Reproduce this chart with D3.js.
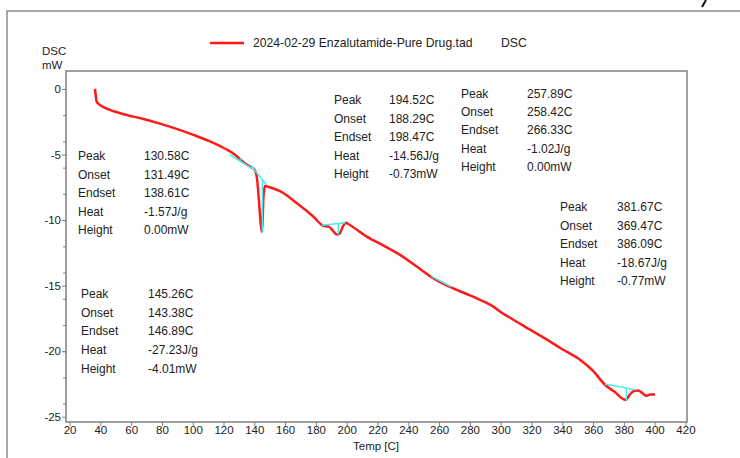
<!DOCTYPE html>
<html>
<head>
<meta charset="utf-8">
<script src="https://cdn.jsdelivr.net/npm/d3@7"></script>
<style>
  body { margin: 0; background: #fff; }
  svg { display: block; font-family: "Liberation Sans", Arial, sans-serif; }
</style>
</head>
<body>
<div class="chart"></div>
<script>
// DSC trace (temperature in C, heat flow in mW)
var temps = [36.5, 37.0, 37.6, 39.8, 46.3, 57.1, 68, 78.7, 90, 100.4, 111.2, 122, 127, 130.7, 134, 137.2,
  140.4, 141.8, 142.6, 143.6, 144.8, 145.4, 145.8, 146.4, 146.9, 150, 156.7, 167.5, 178.3, 184.8,
  188.3, 191, 193.5, 195.5, 197.5, 199.5, 201, 213, 224, 234.6, 245, 256.2, 267, 277, 286.5, 295.2,
  299.5, 308.2, 319, 329.8, 340, 351.5, 360, 367.7, 374, 381.0, 384, 386.1, 389.3, 392, 394.8, 397, 400.2];
var dsc = [0, -0.5, -0.97, -1.22, -1.6, -1.98, -2.29, -2.64, -3.06, -3.5, -4.0, -4.62, -4.98, -5.35, -5.68, -5.92,
  -6.2, -6.9, -7.9, -9.5, -10.9, -10.0, -8.5, -7.7, -7.4, -7.5, -7.8, -8.7, -9.73, -10.44,
  -10.5, -10.8, -11.1, -11.0, -10.5, -10.2, -10.3, -11.26, -11.95, -12.65, -13.5, -14.43, -15.1, -15.6, -16.08, -16.6,
  -16.97, -17.6, -18.35, -19.1, -19.85, -20.65, -21.5, -22.56, -23.1, -23.7, -23.3, -23.07, -23.0, -23.2, -23.4, -23.3, -23.3];

// peak analysis baselines: [t1, v1, t2, v2] and peak drop lines [t, vTop, vBottom]
var baselines = [[124, -5.0, 139, -6.1], [138.2, -5.9, 147.9, -7.3], [184, -10.4, 199, -10.2],
  [255, -14.3, 268, -15.1], [367.7, -22.5, 388, -22.95]];
var dropLines = [[131, -5.3, -5.6], [145.26, -6.9, -10.9], [194.52, -10.3, -11.1], [381.67, -22.85, -23.75]];

// result tables
var resultLabels = ["Peak", "Onset", "Endset", "Heat", "Height"];
var resultValues = [
  ["130.58C", "131.49C", "138.61C", "-1.57J/g", "0.00mW"],
  ["145.26C", "143.38C", "146.89C", "-27.23J/g", "-4.01mW"],
  ["194.52C", "188.29C", "198.47C", "-14.56J/g", "-0.73mW"],
  ["257.89C", "258.42C", "266.33C", "-1.02J/g", "0.00mW"],
  ["381.67C", "369.47C", "386.09C", "-18.67J/g", "-0.77mW"]
];

var xTicks = d3.range(20, 421, 20);
var yTicks = [0, -5, -10, -15, -20, -25];
var yMinorTicks = d3.range(0, -25, -2);

var svgWidth = 740, svgHeight = 458;
var plot = { left: 66, top: 71, right: 687, bottom: 422 };

var svg = d3.select(".chart").append("svg")
  .attr("width", svgWidth)
  .attr("height", svgHeight);

// outer frame
svg.append("path")
  .attr("d", "M7,458 V11 H740")
  .attr("fill", "none")
  .attr("stroke", "#8a8a8a")
  .attr("stroke-width", 1.5);
// bit of a cropped glyph above the frame
svg.append("path")
  .attr("d", "M706,0 L702,7")
  .attr("stroke", "#111")
  .attr("stroke-width", 2);

var x = d3.scaleLinear().domain([17.7, 421]).range([plot.left, plot.right]);
var y = d3.scaleLinear().domain([-25.4, 1.37]).range([plot.bottom, plot.top]);

// plot box
svg.append("rect")
  .attr("x", plot.left).attr("y", plot.top)
  .attr("width", plot.right - plot.left).attr("height", plot.bottom - plot.top)
  .attr("fill", "none").attr("stroke", "#808080").attr("stroke-width", 1.5);

// axes
var xAxis = svg.append("g")
  .attr("transform", `translate(0,${plot.bottom})`)
  .call(d3.axisBottom(x).tickValues(xTicks).tickSize(4).tickPadding(0).tickFormat(d => String(d)));
var yAxis = svg.append("g")
  .attr("transform", `translate(${plot.left},0)`)
  .call(d3.axisLeft(y).tickValues(yTicks).tickSize(4).tickPadding(1).tickFormat(d => String(d)));
var yMinor = svg.append("g")
  .attr("transform", `translate(${plot.left},0)`)
  .call(d3.axisLeft(y).tickValues(yMinorTicks).tickSize(3).tickFormat(""));
[xAxis, yAxis, yMinor].forEach(function(g) {
  g.select(".domain").remove();
  g.selectAll("line").attr("stroke", "#808080");
  g.selectAll("text").attr("font-size", 11.5).attr("fill", "#222")
    .attr("font-family", "Liberation Sans, Arial, sans-serif");
});

// axis titles
svg.append("text").attr("x", 376).attr("y", 450).attr("text-anchor", "middle")
  .attr("font-size", 11.5).attr("fill", "#222").text("Temp  [C]");
svg.append("text").attr("x", 42).attr("y", 55).attr("font-size", 11.5).attr("fill", "#222").text("DSC");
svg.append("text").attr("x", 42).attr("y", 69).attr("font-size", 11.5).attr("fill", "#222").text("mW");

// legend
svg.append("line").attr("x1", 210).attr("x2", 244).attr("y1", 43).attr("y2", 43)
  .attr("stroke", "#ff1a1a").attr("stroke-width", 2.5);
svg.append("text").attr("x", 253).attr("y", 47).attr("font-size", 12.2).attr("fill", "#222")
  .text("2024-02-29 Enzalutamide-Pure Drug.tad");
svg.append("text").attr("x", 501).attr("y", 47).attr("font-size", 12.2).attr("fill", "#222").text("DSC");

// curve
var data = temps.map(function(t, i) { return { t: t, v: dsc[i] }; });
var line = d3.line().x(d => x(d.t)).y(d => y(d.v)).curve(d3.curveMonotoneX);
svg.append("path")
  .datum(data)
  .attr("d", line)
  .attr("fill", "none")
  .attr("stroke", "#ff1a1a")
  .attr("stroke-width", 2.5)
  .attr("stroke-linejoin", "round");

// analysis lines
svg.selectAll(".base").data(baselines).enter().append("line")
  .attr("x1", d => x(d[0])).attr("y1", d => y(d[1]))
  .attr("x2", d => x(d[2])).attr("y2", d => y(d[3]))
  .attr("stroke", "#3ff0f0").attr("stroke-width", 1.5);
svg.selectAll(".drop").data(dropLines).enter().append("line")
  .attr("x1", d => x(d[0])).attr("y1", d => y(d[1]))
  .attr("x2", d => x(d[0])).attr("y2", d => y(d[2]))
  .attr("stroke", "#3ff0f0").attr("stroke-width", 1.5);

// result tables
var tablePos = [[78, 144, 160], [81, 148, 298], [334, 389, 104], [461, 527, 98], [560, 617, 211]];
var rowGap = [18.6, 18.7, 18.6, 18.2, 18.6];
tablePos.forEach(function(p, k) {
  resultLabels.forEach(function(lab, i) {
    svg.append("text").attr("x", p[0]).attr("y", p[2] + i * rowGap[k])
      .attr("font-size", 12).attr("fill", "#222").text(lab);
    svg.append("text").attr("x", p[1]).attr("y", p[2] + i * rowGap[k])
      .attr("font-size", 12).attr("fill", "#222").text(resultValues[k][i]);
  });
});
</script>
</body>
</html>
